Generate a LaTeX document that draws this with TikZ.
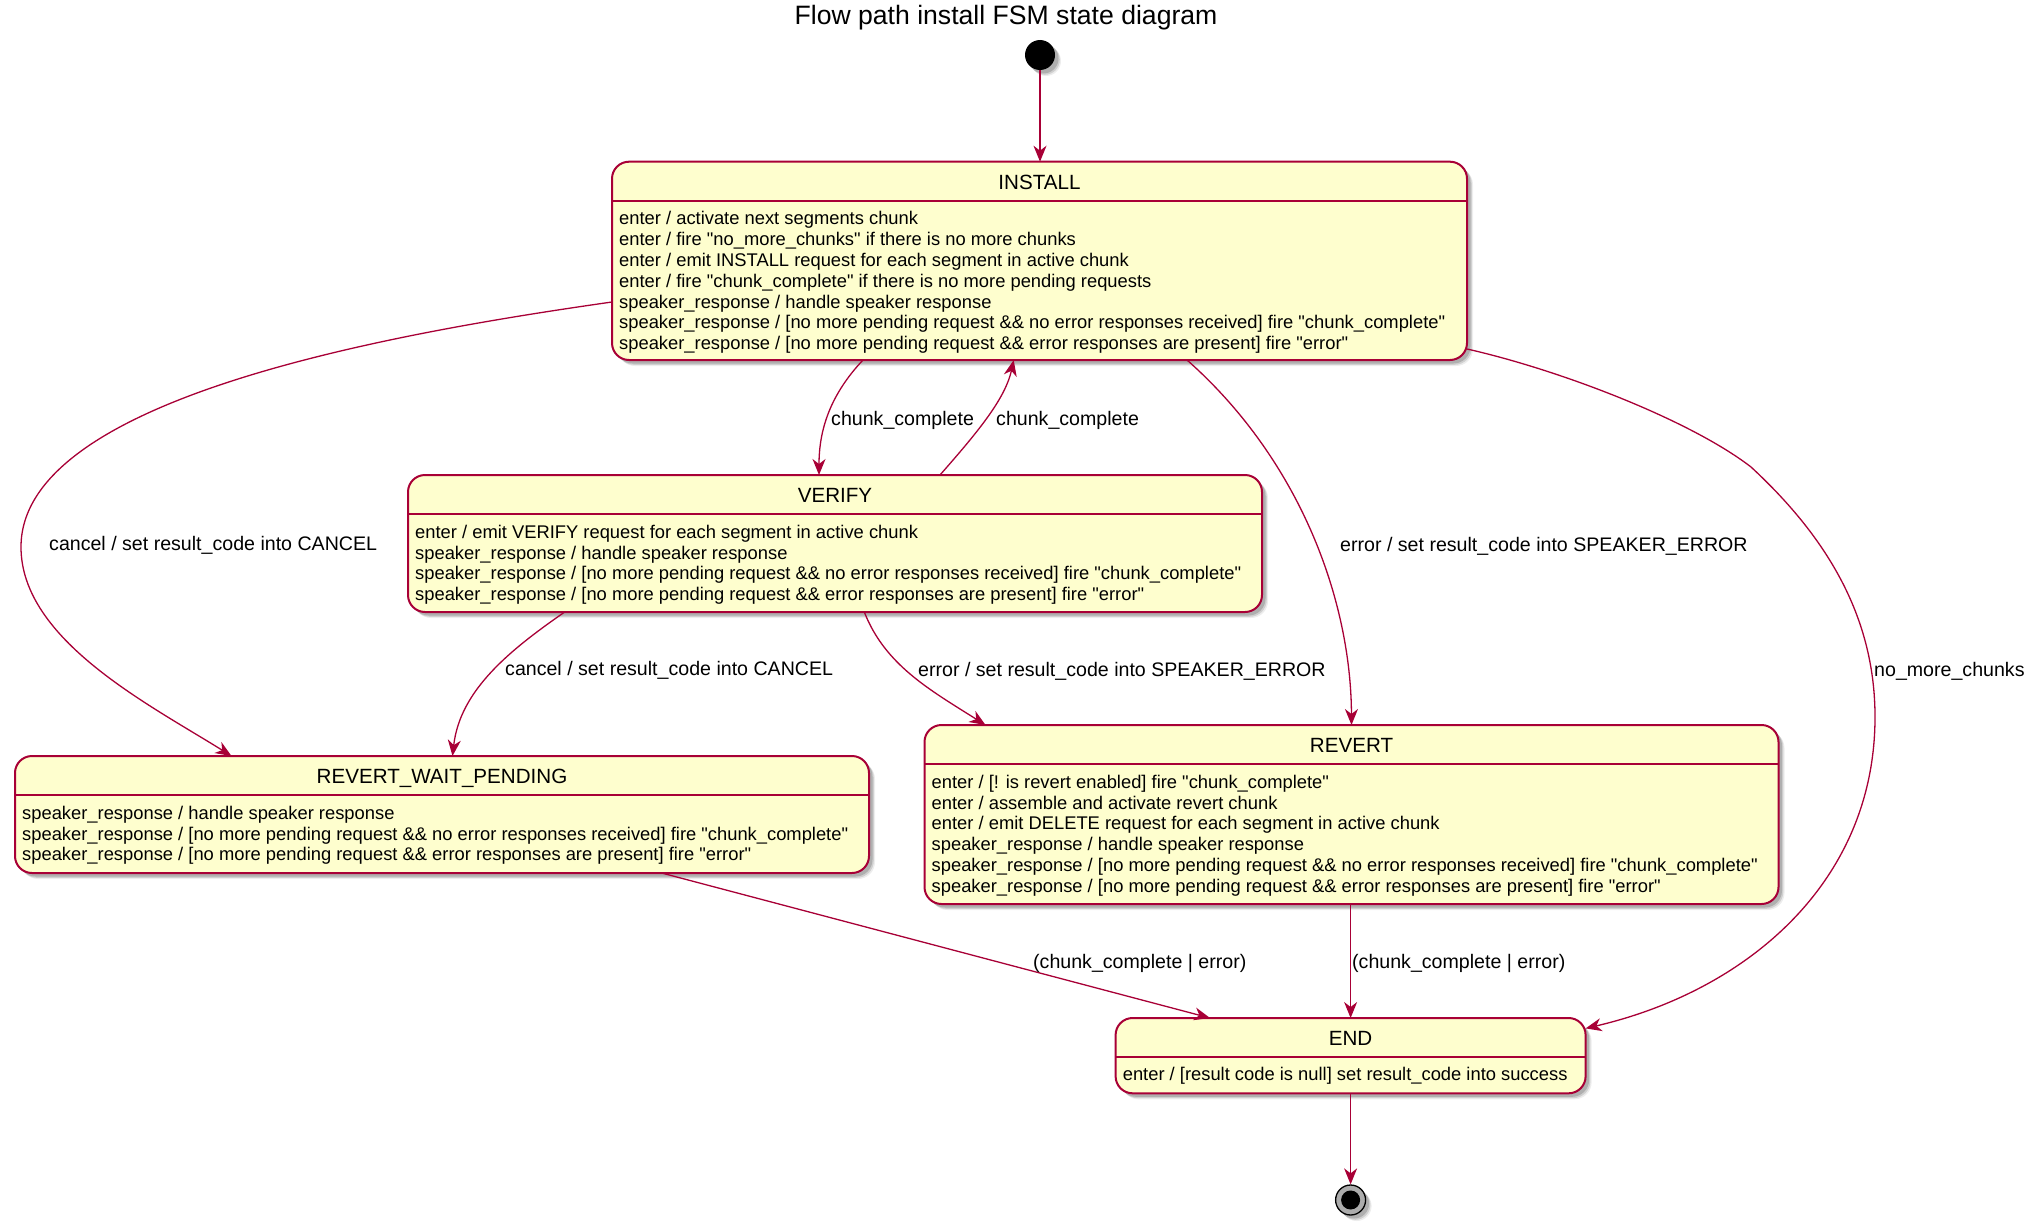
\documentclass[tikz,border=0pt]{standalone}
\usepackage{fontspec}
\setmainfont{Liberation Sans}
\newfontfamily\lib{Liberation Sans}
\usetikzlibrary{arrows.meta,calc,shadows}
\definecolor{crim}{HTML}{A80036}
\definecolor{stfill}{HTML}{FEFECE}
\tikzset{
 shad/.style={
  general shadow={shadow xshift=6pt,shadow yshift=-6pt,fill=black,opacity=0.07},
  general shadow={shadow xshift=4.8pt,shadow yshift=-4.8pt,fill=black,opacity=0.12},
  general shadow={shadow xshift=3.5pt,shadow yshift=-3.5pt,fill=black,opacity=0.16}},
 stbox/.style={draw=crim,fill=stfill,line width=2pt,rounded corners=17pt,inner sep=0pt,outer sep=0pt,anchor=north west,shad},
 sepline/.style={draw=crim,line width=2pt},
 edge/.style={draw=crim,line width=1.3pt,-{Stealth[length=16pt,width=13pt,inset=5pt]}},
 stname/.style={anchor=base,inner sep=0pt,font=\lib\fontsize{20.6}{24}\selectfont},
 bodytxt/.style={anchor=base west,inner sep=0pt,font=\lib\fontsize{18.35}{21}\selectfont},
 lbl/.style={anchor=base west,inner sep=0pt,font=\lib\fontsize{19.6}{23}\selectfont},
}
\begin{document}
\begin{tikzpicture}[x=1pt,y=-1pt]
\useasboundingbox (0,0) rectangle (2031,1231);
\node[anchor=base,inner sep=0pt,font=\lib\fontsize{26.6}{30}\selectfont] (title) at (1006,25) {Flow path install FSM state diagram};

% initial and final
\node[circle,fill=black,minimum size=30pt,inner sep=0pt,shad] (init) at (1040,55) {};

% states
\node[stbox,minimum width=855pt,minimum height=198.3pt] (install) at (612,161.7) {};
\draw[sepline] ($(install.north west)+(0,38.8)$) -- ($(install.north east)+(0,38.8)$);
\node[stname] (install-name) at ($(install.north)+(0,27.3)$) {INSTALL};
\foreach \txt [count=\k] in {
 {enter / activate next segments chunk},
 {enter / fire "no\_more\_chunks" if there is no more chunks},
 {enter / emit INSTALL request for each segment in active chunk},
 {enter / fire "chunk\_complete" if there is no more pending requests},
 {speaker\_response / handle speaker response},
 {speaker\_response / [no more pending request \&\& no error responses received] fire "chunk\_complete"},
 {speaker\_response / [no more pending request \&\& error responses are present] fire "error"}}
 \node[bodytxt] (install-\k) at ($(install.north west)+(7,{63.2+(\k-1)*20.8})$) {\txt};

\node[stbox,minimum width=854pt,minimum height=137pt] (verify) at (408,475) {};
\draw[sepline] ($(verify.north west)+(0,38.8)$) -- ($(verify.north east)+(0,38.8)$);
\node[stname] (verify-name) at ($(verify.north)+(0,27)$) {VERIFY};
\foreach \txt [count=\k] in {
 {enter / emit VERIFY request for each segment in active chunk},
 {speaker\_response / handle speaker response},
 {speaker\_response / [no more pending request \&\& no error responses received] fire "chunk\_complete"},
 {speaker\_response / [no more pending request \&\& error responses are present] fire "error"}}
 \node[bodytxt] (verify-\k) at ($(verify.north west)+(7,{63.2+(\k-1)*20.8})$) {\txt};

\node[stbox,minimum width=854pt,minimum height=117pt] (rwp) at (15,756) {};
\draw[sepline] ($(rwp.north west)+(0,38.8)$) -- ($(rwp.north east)+(0,38.8)$);
\node[stname] (rwp-name) at ($(rwp.north)+(0,27)$) {REVERT\_WAIT\_PENDING};
\foreach \txt [count=\k] in {
 {speaker\_response / handle speaker response},
 {speaker\_response / [no more pending request \&\& no error responses received] fire "chunk\_complete"},
 {speaker\_response / [no more pending request \&\& error responses are present] fire "error"}}
 \node[bodytxt] (rwp-\k) at ($(rwp.north west)+(7,{63.2+(\k-1)*20.8})$) {\txt};

\node[stbox,minimum width=854pt,minimum height=179pt] (revert) at (924.5,725) {};
\draw[sepline] ($(revert.north west)+(0,38.8)$) -- ($(revert.north east)+(0,38.8)$);
\node[stname] (revert-name) at ($(revert.north)+(0,27)$) {REVERT};
\foreach \txt [count=\k] in {
 {enter / [! is revert enabled] fire "chunk\_complete"},
 {enter / assemble and activate revert chunk},
 {enter / emit DELETE request for each segment in active chunk},
 {speaker\_response / handle speaker response},
 {speaker\_response / [no more pending request \&\& no error responses received] fire "chunk\_complete"},
 {speaker\_response / [no more pending request \&\& error responses are present] fire "error"}}
 \node[bodytxt] (revert-\k) at ($(revert.north west)+(7,{63.2+(\k-1)*20.8})$) {\txt};

\node[stbox,minimum width=470pt,minimum height=75.3pt] (end) at (1115.6,1018) {};
\draw[sepline] ($(end.north west)+(0,38.8)$) -- ($(end.north east)+(0,38.8)$);
\node[stname] (end-name) at ($(end.north)+(0,27)$) {END};
\node[bodytxt] (end-1) at ($(end.north west)+(7,62.8)$) {enter / [result code is null] set result\_code into success};

\node[circle,draw=black,line width=1.3pt,fill=gray!65,minimum size=30pt,inner sep=0pt,shad] (final) at (1350.6,1200) {};
\node[circle,fill=black,minimum size=19pt,inner sep=0pt] (finaldot) at (final) {};

% connectors
\draw[edge] (init.south) -- (init.south |- install.north);
\draw[edge] ($(install.south west)+(251,0)$) .. controls (830,395) and (819,430) .. ($(verify.north west)+(411,0)$);
\draw[edge] ($(verify.north west)+(532,0)$) .. controls (975,435) and (1005,400) .. ($(install.south west)+(401.7,0)$);
\draw[edge] ($(install.north west)+(0,140.3)$) .. controls (380,335) and (21,400) .. (21,547) .. controls (21,640) and (150,705) .. ($(rwp.north west)+(216.5,0)$);
\draw[edge] ($(verify.south west)+(156.7,0)$) .. controls (510,650) and (460,690) .. ($(rwp.north west)+(437.5,0)$);
\draw[edge] ($(verify.south west)+(456.3,0)$) .. controls (885,665) and (930,690) .. ($(revert.north west)+(61,0)$);
\draw[edge] ($(install.south west)+(575,0)$) .. controls (1300,460) and (1351,600) .. (revert.north);
\draw[edge] ($(install.south east)+(0,-11)$) .. controls (1560,370) and (1690,420) .. (1751,467) .. controls (1830,540) and (1875,620) .. (1875,717) .. controls (1875,880) and (1750,990) .. ($(end.north east)+(0,10.4)$);
\draw[edge] ($(rwp.south west)+(646.7,0)$) -- ($(end.north west)+(94.4,0)$);
\draw[edge] (end.north |- revert.south) -- (end.north);
\draw[edge] (end.south) -- (final.north);

% labels
\node[lbl] (l-cancel1) at (49,550) {cancel / set result\_code into CANCEL};
\node[lbl] (l-cc1) at (831,425) {chunk\_complete};
\node[lbl] (l-cc2) at (996,425) {chunk\_complete};
\node[lbl] (l-cancel2) at (505,675) {cancel / set result\_code into CANCEL};
\node[lbl] (l-err1) at (918,676) {error / set result\_code into SPEAKER\_ERROR};
\node[lbl] (l-err2) at (1340,551) {error / set result\_code into SPEAKER\_ERROR};
\node[lbl] (l-nmc) at (1874,676) {no\_more\_chunks};
\node[lbl] (l-ce1) at (1033,968) {(chunk\_complete | error)};
\node[lbl] (l-ce2) at (1352,968) {(chunk\_complete | error)};
\end{tikzpicture}
\end{document}
